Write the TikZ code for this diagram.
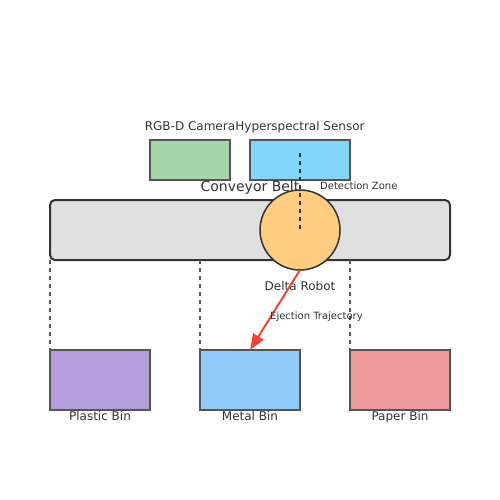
\documentclass[tikz,border=0pt]{standalone}
\usepackage{fontspec}
\setmainfont{DejaVu Sans}
\usetikzlibrary{arrows.meta}
\definecolor{camc}{HTML}{A5D6A7}
\definecolor{senc}{HTML}{81D4FA}
\definecolor{beltc}{HTML}{E0E0E0}
\definecolor{robc}{HTML}{FFCC80}
\definecolor{plc}{HTML}{B39DDB}
\definecolor{mec}{HTML}{90CAF9}
\definecolor{pac}{HTML}{EF9A9A}
\definecolor{edge}{HTML}{555555}
\definecolor{dark}{HTML}{333333}
\definecolor{arr}{HTML}{F44336}
\tikzset{
  boxs/.style={draw=edge, line width=1.5pt, inner sep=0pt, outer sep=0pt, anchor=north west},
  lab/.style={text=dark, inner sep=0pt, text depth=0pt, font=\fontsize{12}{14}\selectfont},
  smalllab/.style={text=dark, inner sep=0pt, text depth=0pt, font=\fontsize{10}{12}\selectfont},
  guide/.style={draw=edge, line width=1.5pt, dash pattern=on 4pt off 4pt},
}
\begin{document}
\begin{tikzpicture}[x=1pt,y=-1pt]
\useasboundingbox (0,0) rectangle (500,500);
% sensors
\node[boxs, fill=camc, minimum width=80pt, minimum height=40pt] (cam) at (150,140) {};
\node[boxs, fill=senc, minimum width=100pt, minimum height=40pt] (sen) at (250,140) {};
\node[lab] (camlab) at (190,126) {RGB-D Camera};
\node[lab] (senlab) at (300,126) {Hyperspectral Sensor};
% belt
\node[draw=dark, line width=2pt, fill=beltc, rounded corners=5pt, minimum width=400pt, minimum height=60pt, inner sep=0pt, outer sep=0pt, anchor=north west] (belt) at (50,200) {};
\node[lab, font=\fontsize{14}{16}\selectfont] (beltlab) at (250,186) {Conveyor Belt};
% robot
\node[circle, draw=dark, line width=1.5pt, fill=robc, minimum size=80pt, inner sep=0pt, outer sep=0pt] (rob) at (300,230) {};
\node[lab] (roblab) at (300,286) {Delta Robot};
% detection line
\coordinate (dtop) at (300,153);
\draw[draw=dark, line width=2pt, dash pattern=on 4pt off 4pt] (dtop) -- (rob.center);
\node[smalllab, anchor=west] (detlab) at (320,186) {Detection Zone};
% bins
\node[boxs, fill=plc, minimum width=100pt, minimum height=60pt] (pl) at (50,350) {};
\node[boxs, fill=mec, minimum width=100pt, minimum height=60pt] (me) at (200,350) {};
\node[boxs, fill=pac, minimum width=100pt, minimum height=60pt] (pa) at (350,350) {};
\node[lab] (pllab) at (100,416) {Plastic Bin};
\node[lab] (melab) at (250,416) {Metal Bin};
\node[lab] (palab) at (400,416) {Paper Bin};
% guides
\draw[guide] (belt.south west) -- (pl.north west);
\draw[guide] (belt.south west -| me.north west) -- (me.north west);
\draw[guide] (belt.south west -| pa.north west) -- (pa.north west);
% arrow
\draw[draw=arr, line width=2pt, -{Triangle[length=16pt,width=12pt]}] (rob.south) -- (me.north);
\node[smalllab, anchor=west] (ejlab) at (270,316) {Ejection Trajectory};
\end{tikzpicture}
\end{document}
